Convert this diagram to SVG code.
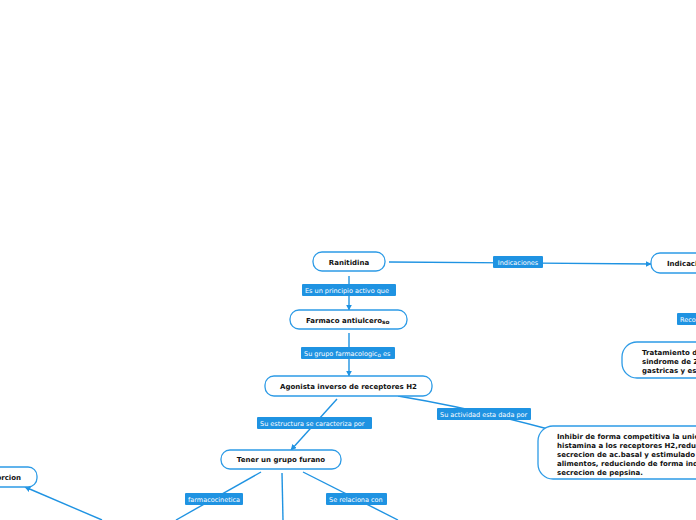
<svg xmlns="http://www.w3.org/2000/svg" width="696" height="520" viewBox="0 0 696 520">
<style>
.node rect{fill:#fff;stroke:#2d9be6;stroke-width:1.3}
.nt{font-family:"DejaVu Sans",Verdana,sans-serif;font-weight:bold;font-size:7px;fill:#111}
.lb rect{fill:#1f93e2}
.lt{font-family:"DejaVu Sans",Verdana,sans-serif;font-size:6.5px;fill:#fff}
.c{fill:none;stroke:#1f93e2;stroke-width:1.4}
</style>
<defs>
<marker id="ar" viewBox="0 0 10 10" refX="9" refY="5" markerWidth="6" markerHeight="6" orient="auto" markerUnits="userSpaceOnUse">
<path d="M0,0 L10,5 L0,10 z" fill="#1f93e2"/>
</marker>
</defs>
<rect width="696" height="520" fill="#fff"/>
<g id="connectors">
<path class="c" d="M389 262 L651 264" marker-end="url(#ar)"/>
<path class="c" d="M349 276 L349 310" marker-end="url(#ar)"/>
<path class="c" d="M349 333 L349 376" marker-end="url(#ar)"/>
<path class="c" d="M337 399 L291 450" marker-end="url(#ar)"/>
<path class="c" d="M398 396 Q470 408 548 429"/>
<path class="c" d="M261 472 L176 520"/>
<path class="c" d="M282 473 L283 520"/>
<path class="c" d="M303 472 L398 520"/>
<path class="c" d="M102 520 L25 487" marker-end="url(#ar)"/>
<g class="lb">
<rect x="493" y="256" width="50" height="12" rx="1"/>
<text class="lt" x="518" y="264.5" text-anchor="middle">Indicaciones</text>
<rect x="302" y="284" width="94" height="12" rx="1"/>
<text class="lt" x="305" y="292.5">Es un principio activo que</text>
<rect x="301" y="347" width="94" height="12" rx="1"/>
<text class="lt" x="304" y="355.5">Su grupo farmacologic<tspan font-size="5.6" dy="1">o</tspan><tspan dy="-1"> es</tspan></text>
<rect x="257" y="417" width="115" height="12" rx="1"/>
<text class="lt" x="260" y="425.5">Su estructura se caracteriza por</text>
<rect x="437" y="408" width="94" height="12" rx="1"/>
<text class="lt" x="440" y="416.5">Su actividad esta dada por</text>
<rect x="185" y="493" width="58" height="12" rx="1"/>
<text class="lt" x="188" y="501.5">farmacocinetica</text>
<rect x="326" y="493" width="61" height="12" rx="1"/>
<text class="lt" x="329" y="501.5">Se relaciona con</text>
<rect x="677" y="313" width="30" height="12" rx="1"/>
<text class="lt" x="680" y="321.5">Recomendado</text>
</g>
</g>
<g id="n-ranitidina" class="node">
<rect x="313" y="252" width="72" height="19" rx="9"/>
<text class="nt" x="349" y="264.5" text-anchor="middle">Ranitidina</text>
</g>
<g id="n-indicaciones" class="node">
<rect x="651" y="253" width="90" height="20" rx="9"/>
<text class="nt" x="667" y="265.5">Indicaciones</text>
</g>
<g id="n-farmaco" class="node">
<rect x="290" y="310" width="117" height="19" rx="9"/>
<text class="nt" x="306" y="322.5">Farmaco antiulcero<tspan font-size="5.8" dy="1.2">so</tspan></text>
</g>
<g id="n-agonista" class="node">
<rect x="265" y="376" width="167" height="20" rx="9"/>
<text class="nt" x="348.5" y="388.5" text-anchor="middle">Agonista inverso de receptores H2</text>
</g>
<g id="n-tener" class="node">
<rect x="221" y="450" width="120" height="19" rx="9"/>
<text class="nt" x="281" y="462" text-anchor="middle">Tener un grupo furano</text>
</g>
<g id="n-inhibir" class="node">
<rect x="538" y="426" width="200" height="53" rx="15"/>
<text class="nt" x="557" y="439">Inhibir de forma competitiva la union de la</text>
<text class="nt" x="557" y="448">histamina a los receptores H2,reduciendo la</text>
<text class="nt" x="557" y="457">secrecion de ac.basal y estimulado por los</text>
<text class="nt" x="557" y="466">alimentos, reduciendo de forma indirecta la</text>
<text class="nt" x="557" y="475">secrecion de pepsina.</text>
</g>
<g id="n-tratamiento" class="node">
<rect x="622" y="342" width="180" height="36" rx="15"/>
<text class="nt" x="642" y="355">Tratamiento de ulceras duodenales,</text>
<text class="nt" x="642" y="364">sindrome de Zollinger-Ellison, ulceras</text>
<text class="nt" x="642" y="373">gastricas y esofagitis por reflujo</text>
</g>
<g id="n-absorcion" class="node">
<rect x="-40" y="467" width="77" height="20" rx="9"/>
<text class="nt" x="21" y="479.5" text-anchor="end">Absorcion</text>
</g>
</svg>
